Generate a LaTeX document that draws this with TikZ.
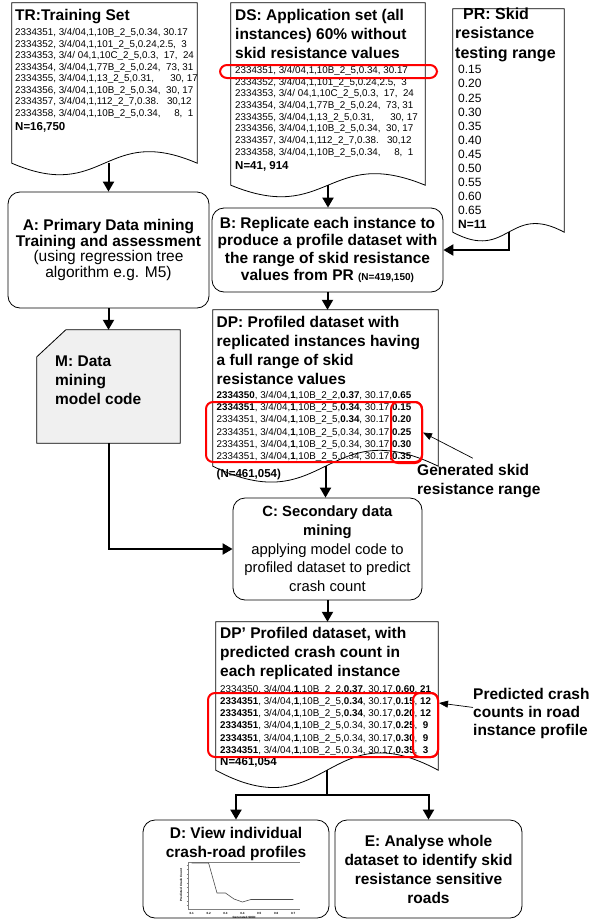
\documentclass[tikz,border=0pt]{standalone}
\usepackage{fontspec}
\setmainfont{Liberation Sans}
\usetikzlibrary{arrows.meta,positioning}

\begin{document}
\begin{tikzpicture}[x=1pt, y=-1pt,
    shell/.style={inner sep=0pt},
    docframe/.style={draw=black, line width=0.8pt},
    procbox/.style={draw=black, line width=0.8pt, rounded corners=12pt, inner sep=0pt, align=center},
    headtext/.style={inner sep=0pt, align=left, anchor=north west, font=\fontsize{15.5}{19}\selectfont\bfseries},
    datarow/.style={inner sep=0pt, anchor=base west, font=\fontsize{9.8}{11}\selectfont},
    countrow/.style={inner sep=0pt, anchor=base west, font=\fontsize{11.5}{12}\selectfont\bfseries},
    hilite/.style={draw=red, line width=2pt, rounded corners=7pt, inner sep=0pt},
    flow/.style={line width=2pt, -{Triangle[length=10pt,width=11pt]}},
    pointer/.style={line width=0.7pt, -{Triangle[length=9pt,width=7pt]}}]

        \useasboundingbox (0,0) rectangle (592,919);

        \def\rawRows{%
          {2334351, 3/4/04,1,10B\_2\_5,0.34, 30.17},%
          {2334352, 3/4/04,1,101\_2\_5,0.24,2.5,~~3},%
          {2334353, 3/4/~04,1,10C\_2\_5,0.3,~~17,~~24},%
          {2334354, 3/4/04,1,77B\_2\_5,0.24,~~73, 31},%
          {2334355, 3/4/04,1,13\_2\_5,0.31,~~~~~~30, 17},%
          {2334356, 3/4/04,1,10B\_2\_5,0.34,~~30, 17},%
          {2334357, 3/4/04,1,112\_2\_7,0.38.~~~30,12},%
          {2334358, 3/4/04,1,10B\_2\_5,0.34,~~~~~8,~~1}}

        % TR: training set
        \node[shell, minimum width=185pt, minimum height=160pt] (trF) at (104.5,83) {};
        \draw[docframe] (trF.north west) -- (trF.north east) -- (trF.south east)
          .. controls ([yshift=40pt]trF.south) and ([yshift=-40pt]trF.south) .. (trF.south west) -- cycle;
        \node[headtext] (trHead) at (15,9) {TR:Training Set};
        \foreach \row [count=\i from 0] in \rawRows {
            \node[datarow] (tr-\i) at (15,35.8+11.5*\i) {\row};
          }
        \node[countrow] (trN) at (15,130) {N=16,750};

        % DS: application set
        \node[shell, minimum width=194pt, minimum height=182pt] (dsF) at (328,94) {};
        \draw[docframe] (dsF.north west) -- (dsF.north east) -- (dsF.south east)
          .. controls ([yshift=40pt]dsF.south) and ([yshift=-40pt]dsF.south) .. (dsF.south west) -- cycle;
        \node[headtext] (dsHead) at (235,9.2) {DS: Application set (all\\instances) 60\% without\\skid resistance values};
        \foreach \row [count=\i from 0] in \rawRows {
            \node[datarow] (ds-\i) at (235,73.5+11.65*\i) {\row};
          }
        \node[countrow] (dsN) at (235,169) {N=41, 914};
        \node[hilite, minimum width=217pt, minimum height=13pt] (dsHi) at (328.5,71.5) {};

        % PR: testing range
        \node[shell, minimum width=111pt, minimum height=223pt] (prF) at (508.5,120.5) {};
        \draw[docframe] (prF.north west) -- (prF.north east) -- (prF.south east)
          .. controls ([yshift=30pt]prF.south) and ([yshift=-30pt]prF.south) .. (prF.south west) -- cycle;
        \node[headtext, font=\fontsize{16}{19.5}\selectfont\bfseries] (prHead) at (455,7.5) {\hspace*{8pt}PR: Skid\\resistance\\testing range};
        \foreach \v [count=\i from 0] in {0.15,0.20,0.25,0.30,0.35,0.40,0.45,0.50,0.55,0.60,0.65}{
            \node[datarow, font=\fontsize{12}{12}\selectfont] (pr-\i) at (458,73.8+14.1*\i) {\v};
          }
        \node[datarow, font=\fontsize{12}{12}\selectfont\bfseries] (prN) at (458,228.9) {N=11};

        % A and B
        \node[procbox, minimum width=201pt, minimum height=116pt, font=\fontsize{15.5}{15.7}\selectfont] (aF) at (108.5,250)
          {\textbf{A: Primary Data mining}\\\textbf{Training and assessment}\\(using regression tree\\algorithm e.g. M5)};
        \node[procbox, minimum width=231pt, minimum height=84pt, font=\fontsize{15.5}{17.2}\selectfont\bfseries] (bF) at (327.5,250)
          {B: Replicate each instance to\\produce a profile dataset with\\the range of skid resistance\\values from PR {\fontsize{10}{10}\selectfont(N=419,150)}};

        % M: model code
        \node[shell, minimum width=143pt, minimum height=113pt] (mF) at (108.5,386.5) {};
        \draw[docframe, fill=black!6] ([yshift=-27pt]mF.north west) -- ([xshift=29pt]mF.north west)
          -- (mF.north east) -- (mF.south east) -- (mF.south west) -- cycle;
        \node[headtext] (mHead) at (55,355.7) {M: Data\\mining\\model code};

        % DP: profiled dataset
        \node[shell, minimum width=225pt, minimum height=156pt] (dpF) at (325.5,388) {};
        \draw[docframe] (dpF.north west) -- (dpF.north east) -- (dpF.south east)
          .. controls ([yshift=55pt]dpF.south) and ([yshift=-55pt]dpF.south) .. (dpF.south west) -- cycle;
        \node[headtext, font=\fontsize{15.5}{18.8}\selectfont\bfseries] (dpHead) at (216.5,316.2)
          {DP: Profiled dataset with\\replicated instances having\\a full range of skid\\resistance values};
        \foreach \row [count=\i from 0] in {%
            {\textbf{2334350}, 3/4/04,\textbf{1},10B\_2\_2,\textbf{0.37}, 30.17,\textbf{0.65}},
            {\textbf{2334351}, 3/4/04,\textbf{1},10B\_2\_5,\textbf{0.34}, 30.17,\textbf{0.15}},
            {2334351, 3/4/04,\textbf{1},10B\_2\_5,\textbf{0.34}, 30.17,\textbf{0.20}},
            {2334351, 3/4/04,\textbf{1},10B\_2\_5,0.34, 30.17,\textbf{0.25}},
            {2334351, 3/4/04,\textbf{1},10B\_2\_5,0.34, 30.17,\textbf{0.30}},
            {2334351, 3/4/04,\textbf{1},10B\_2\_5,0.34, 30.17,\textbf{0.35}}}{
            \node[datarow] (dp-\i) at (216.5,398.5+12.2*\i) {\row};
          }
        \node[countrow] (dpN) at (216.5,477.5) {(N=461,054)};
        \node[hilite, minimum width=216pt, minimum height=60pt] (dpHi) at (314,432) {};
        \node[hilite, minimum width=31pt, minimum height=61pt] (dpHiVal) at (406.5,432.5) {};
        \node[headtext] (genTxt) at (417,464.2) {Generated skid\\resistance range};

        % C: secondary mining
        \node[procbox, minimum width=189pt, minimum height=102pt, font=\fontsize{14.8}{18.7}\selectfont] (cF) at (327.5,549)
          {\textbf{C: Secondary data}\\\textbf{mining}\\applying model code to\\profiled dataset to predict\\crash count};

        % DP': predicted dataset
        \node[shell, minimum width=222pt, minimum height=148pt] (dp2F) at (327,696) {};
        \draw[docframe] (dp2F.north west) -- (dp2F.north east) -- (dp2F.south east)
          .. controls ([yshift=60pt]dp2F.south) and ([yshift=-60pt]dp2F.south) .. (dp2F.south west) -- cycle;
        \node[headtext] (dp2Head) at (220,627.2) {DP’ Profiled dataset, with\\predicted crash count in\\each replicated instance};
        \foreach \row [count=\i from 0] in {%
            {2334350, 3/4/04,\textbf{1},10B\_2\_2,\textbf{0.37}, 30.17,\textbf{0.60}, \textbf{21}},
            {\textbf{2334351}, 3/4/04,\textbf{1},10B\_2\_5,\textbf{0.34}, 30.17,\textbf{0.15}, \textbf{12}},
            {\textbf{2334351}, 3/4/04,\textbf{1},10B\_2\_5,\textbf{0.34}, 30.17,\textbf{0.20}, \textbf{12}},
            {\textbf{2334351}, 3/4/04,\textbf{1},10B\_2\_5,0.34, 30.17,\textbf{0.25},~~\textbf{9}},
            {\textbf{2334351}, 3/4/04,\textbf{1},10B\_2\_5,0.34, 30.17,\textbf{0.30},~~\textbf{9}},
            {\textbf{2334351}, 3/4/04,\textbf{1},10B\_2\_5,0.34, 30.17,\textbf{0.35},~~\textbf{3}}}{
            \node[datarow] (dp2-\i) at (220,692.5+12.15*\i) {\row};
          }
        \node[countrow] (dp2N) at (220,765.5) {N=461,054};
        \node[hilite, minimum width=230pt, minimum height=64pt] (dp2Hi) at (323,725) {};
        \node[hilite, minimum width=25pt, minimum height=64pt] (dp2HiVal) at (425.5,725) {};
        \node[headtext, font=\fontsize{15.5}{18.3}\selectfont\bfseries] (pcTxt) at (473,687.7) {Predicted crash\\counts in road\\instance profile};

        % D and E
        \node[procbox, minimum width=186pt, minimum height=98pt] (dF) at (236,869) {};
        \node[headtext, anchor=north, align=center] (dHead) at (236,827.2) {D: View individual\\crash-road profiles};
        \node[procbox, minimum width=187pt, minimum height=98pt, font=\fontsize{15.5}{19}\selectfont\bfseries] (eF) at (428.5,869)
          {E: Analyse whole\\dataset to identify skid\\resistance sensitive\\roads};

        % small profile chart inside D
        \draw[gray, line width=0.4pt] (188,862) -- (300,862);
        \draw[gray, line width=0.4pt] (188,862) -- (188,909) -- (300,909);
        \foreach \i in {0,...,9}{
            \draw[gray, line width=0.3pt] (186.5,865+4.5*\i) -- (188,865+4.5*\i);
          }
        \draw[black!70, line width=0.6pt] plot coordinates {(191.7,863) (208.6,863) (217,893) (225.5,893)
          (234,899) (242.4,902) (250.9,899.5) (293.3,899.5)};
        \foreach \t [count=\i from 0] in {0.1,0.2,0.3,0.4,0.5,0.6,0.7}{
            \node[inner sep=0pt, font=\fontsize{3}{3}\selectfont\bfseries] (tick-\i) at (191.7+16.9*\i,913) {\t};
          }
        \node[inner sep=0pt, rotate=90, font=\fontsize{3}{3}\selectfont\bfseries] (yLab) at (181,885) {Predicted Crash Count};
        \node[inner sep=0pt, font=\fontsize{3}{3}\selectfont\bfseries] (xLab) at (244,917) {Generated SKID};

        % Connections
        \draw[flow] (trF.south -| aF.north) -- (aF.north);
        \draw[flow] (dsF.south) -- (dsF.south |- bF.north);
        \draw[flow] (prF.south) |- (bF.east);
        \draw[flow] (aF.south) -- (mF.north);
        \draw[flow] (bF.south) -- (bF.south |- dpF.north);
        \draw[flow] (mF.south) |- (cF.west);
        \draw[flow] (dpF.south) -- (dpF.south |- cF.north);
        \draw[flow] (cF.south) -- (cF.south |- dp2F.north);
        \coordinate (fork) at (dp2F.south |- 0,795);
        \draw[line width=2pt] (dp2F.south) -- (fork);
        \draw[flow] (fork) -| (dF.north);
        \draw[flow] (fork) -| (eF.north);

        % Annotations
        \draw[pointer] ([shift={(-6pt,6pt)}]genTxt.north) -- (dpHiVal.east);
        \draw[pointer] ([yshift=6pt]pcTxt.west) -- ([yshift=22pt]dp2HiVal.east);
      \end{tikzpicture}
\end{document}
